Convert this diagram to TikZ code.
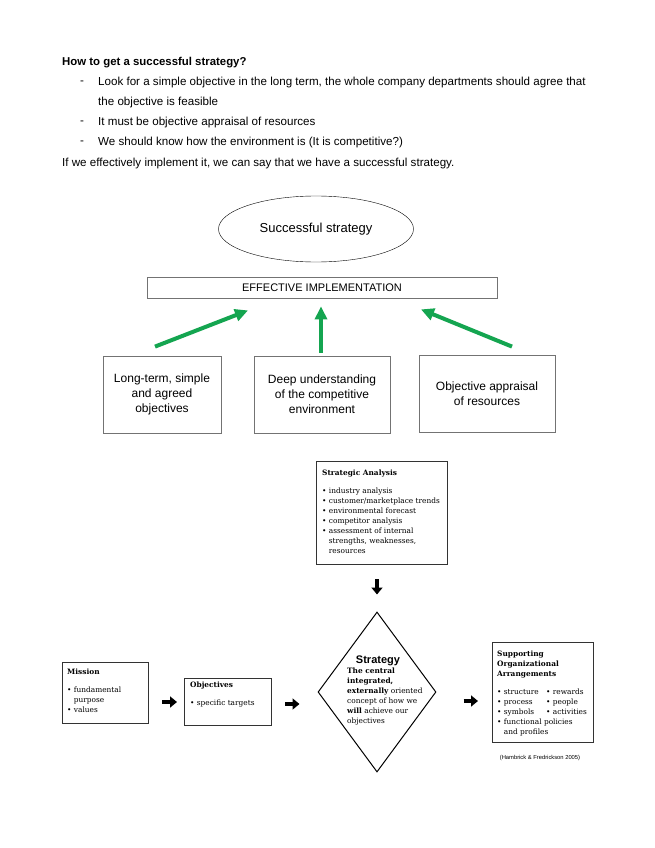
\documentclass[tikz,border=0pt]{standalone}
\usepackage{fontspec}
\setmainfont{Liberation Sans}
\newfontfamily\slabfont{DejaVu Serif}
\usetikzlibrary{positioning,shapes.geometric,arrows.meta}
\definecolor{arrowgreen}{RGB}{20,165,80}
\tikzset{
  line/.style={anchor=west,inner sep=0pt,font=\fontsize{11.6}{13}\selectfont},
  greybox/.style={draw=black!55,line width=0.8pt,align=center,inner sep=0pt,font=\fontsize{12}{15}\selectfont},
  greenarrow/.style={arrowgreen,line width=4pt,-{Triangle[length=13pt,width=12pt]}},
  slabbox/.style={draw=black!80,line width=1pt,inner sep=0pt,anchor=north west},
  slabtext/.style={inner sep=0pt,align=left,font=\slabfont\fontsize{7.4}{10}\selectfont},
  blockarrow/.style={line width=4.5pt,-{Triangle[length=7pt,width=11pt]}},
}
\begin{document}
\begin{tikzpicture}[x=1pt,y=-1pt]
  \fill[white] (0,0) rectangle (655,848);
  \useasboundingbox (0,0) rectangle (655,848);
  % text above the picture
  \node[line,font=\bfseries\fontsize{11.4}{13}\selectfont] (title) at (62,63) {How to get a successful strategy?};
  \node[line] (d1) at (80,83) {-};
  \node[line] (b1) at (98,83) {Look for a simple objective in the long term, the whole company departments should agree that};
  \node[line] (b1b) at (98,103) {the objective is feasible};
  \node[line] (d2) at (80,123) {-};
  \node[line] (b2) at (98,123) {It must be objective appraisal of resources};
  \node[line] (d3) at (80,143) {-};
  \node[line] (b3) at (98,143) {We should know how the environment is (It is competitive?)};
  \node[line] (close) at (62,164) {If we effectively implement it, we can say that we have a successful strategy.};

  % first diagram
  \node[draw,ellipse,minimum width=195,minimum height=66,inner sep=0pt,font=\fontsize{13}{15}\selectfont] (goal) at (316,229) {Successful strategy};
  \node[draw=black!55,line width=0.8pt,minimum width=350,minimum height=21,inner sep=0pt,font=\fontsize{11}{13}\selectfont] (impl) at (322,287.5) {EFFECTIVE IMPLEMENTATION};
  \node[greybox,minimum width=118,minimum height=77] (longterm) at (162,394.5) {Long-term, simple\\and agreed\\objectives};
  \node[greybox,minimum width=136,minimum height=77] (deep) at (322,394.5) {Deep understanding\\of the competitive\\environment};
  \node[greybox,minimum width=136,minimum height=77] (appraisal) at (487,393.5) {Objective appraisal\\of resources};
  \draw[greenarrow] ([xshift=-7pt,yshift=9pt]longterm.north) -- ([xshift=-74pt,yshift=-12pt]impl.south);
  \draw[greenarrow] ([xshift=-1pt,yshift=3pt]deep.north) -- ([xshift=-1pt,yshift=-8pt]impl.south);
  \draw[greenarrow] ([xshift=25pt,yshift=8pt]appraisal.north) -- ([xshift=99pt,yshift=-11pt]impl.south);

  % second diagram
  \node[slabbox,minimum width=131,minimum height=103] (analysis) at (316,461) {};
  \node[slabtext,below right=9pt and 6pt of analysis.north west] (analysistext) {\textbf{Strategic Analysis}\\[8pt]
    \textbullet\ industry analysis\\
    \textbullet\ customer/marketplace trends\\
    \textbullet\ environmental forecast\\
    \textbullet\ competitor analysis\\
    \textbullet\ assessment of internal\\
    \hphantom{\textbullet\ }strengths, weaknesses,\\
    \hphantom{\textbullet\ }resources};
  \node[slabbox,minimum width=86,minimum height=61] (mission) at (62,662) {};
  \node[slabtext,below right=7pt and 5pt of mission.north west] (missiontext) {\textbf{Mission}\\[8pt]
    \textbullet\ fundamental\\
    \hphantom{\textbullet\ }purpose\\
    \textbullet\ values};
  \node[slabbox,minimum width=87,minimum height=47] (obj) at (184,678) {};
  \node[slabtext,below right=4pt and 6pt of obj.north west] (objtext) {\textbf{Objectives}\\[8pt]
    \textbullet\ specific targets};
  \node[draw,diamond,minimum width=118,minimum height=160,inner sep=0pt,line width=1pt] (strat) at (377,692) {};
  \node[inner sep=0pt,font=\bfseries\fontsize{11}{12}\selectfont] (strathead) at (378,661) {Strategy};
  \node[slabtext,anchor=north west] (strattext) at (347,668) {\textbf{The central}\\
    \textbf{integrated,}\\
    \textbf{externally} oriented\\
    concept of how we\\
    \textbf{will} achieve our\\
    objectives};
  \node[slabbox,minimum width=101,minimum height=100] (supp) at (492,642) {};
  \node[slabtext,below right=9pt and 5pt of supp.north west] (supptext) {\textbf{Supporting}\\
    \textbf{Organizational}\\
    \textbf{Arrangements}\\[8pt]
    \makebox[49pt][l]{\textbullet\ structure}\textbullet\ rewards\\
    \makebox[49pt][l]{\textbullet\ process}\textbullet\ people\\
    \makebox[49pt][l]{\textbullet\ symbols}\textbullet\ activities\\
    \textbullet\ functional policies\\
    \hphantom{\textbullet\ }and profiles};
  \node[inner sep=0pt,font=\fontsize{5.8}{7}\selectfont] (cite) at (540,758) {(Hambrick \& Fredrickson 2005)};
  \draw[blockarrow,shorten <=14pt,shorten >=17pt] (analysis.south -| strat.north) -- (strat.north);
  \draw[blockarrow,shorten <=13pt,shorten >=7pt] (mission.east |- obj.west) -- (obj.west);
  \draw[blockarrow,shorten <=13pt,shorten >=18pt] ([yshift=-2pt]obj.east) -- ([yshift=-2pt]obj.east -| strat.west);
  \draw[blockarrow,shorten <=27pt,shorten >=14pt] ([yshift=-9pt]strat.east) -- ([yshift=-9pt]strat.east -| supp.west);
\end{tikzpicture}
\end{document}
